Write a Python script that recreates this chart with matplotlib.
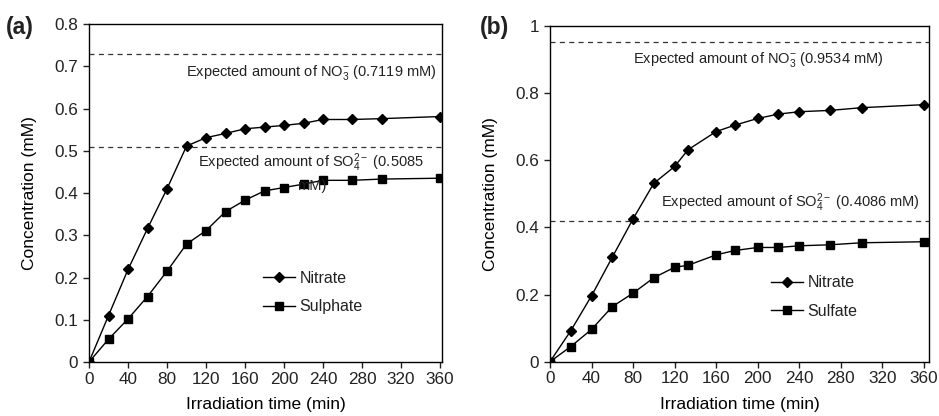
import numpy as np
import matplotlib
matplotlib.use("Agg")
import matplotlib.pyplot as plt
import matplotlib.ticker as mticker

# ── data ────────────────────────────────────────────────────────────────────
t_a        = [0, 20, 40, 60, 80, 100, 120, 140, 160, 180, 200, 220, 240, 270, 300, 360]
nitrate_a  = [0, 0.110, 0.219, 0.316, 0.410, 0.511, 0.531, 0.541, 0.552, 0.556,
              0.560, 0.565, 0.574, 0.574, 0.576, 0.581]
sulphate_a = [0, 0.054, 0.102, 0.155, 0.215, 0.279, 0.311, 0.356, 0.383, 0.405,
              0.413, 0.421, 0.430, 0.430, 0.433, 0.435]
expected_a = [0.729, 0.510]      # dashed line levels (NO3, SO4)

t_b        = [0, 20, 40, 60, 80, 100, 120, 133, 160, 178, 200, 220, 240, 270, 300, 360]
nitrate_b  = [0, 0.092, 0.196, 0.311, 0.425, 0.531, 0.581, 0.631, 0.685, 0.704,
              0.724, 0.737, 0.744, 0.748, 0.756, 0.765]
sulfate_b  = [0, 0.045, 0.096, 0.164, 0.204, 0.250, 0.281, 0.287, 0.318, 0.331,
              0.340, 0.340, 0.345, 0.348, 0.354, 0.357]
expected_b = [0.951, 0.420]

x_ticks = list(range(0, 361, 40))
y_ticks_a = [0, 0.1, 0.2, 0.3, 0.4, 0.5, 0.6, 0.7, 0.8]
y_ticks_b = [0, 0.2, 0.4, 0.6, 0.8, 1.0]

# ── style ───────────────────────────────────────────────────────────────────
plt.rcParams.update({
    "font.family": "Liberation Sans",
    "mathtext.fontset": "custom",
    "mathtext.rm": "Liberation Sans",
    "mathtext.it": "Liberation Sans",
    "font.size": 12,
    "axes.linewidth": 1.0,
    "xtick.direction": "out",
    "ytick.direction": "out",
    "xtick.major.size": 4,
    "ytick.major.size": 4,
    "text.color": "#222222",
    "xtick.color": "#222222",
    "ytick.color": "#222222",
})

LINE = dict(color="black", linewidth=1.0)
DASH = dict(color="#333333", linewidth=0.9, linestyle=(0, (4, 3.5)))

fig = plt.figure(figsize=(9.39, 4.16), dpi=100)
ax_a = fig.add_axes([0.0948, 0.1298, 0.3759, 0.8125])
ax_b = fig.add_axes([0.5857, 0.1305, 0.4037, 0.8077])


def setup(ax, yticks, ylim, xmax, ylab_x):
    ax.set_xlim(0, xmax)
    ax.set_ylim(*ylim)
    ax.set_xticks(x_ticks)
    ax.set_yticks(yticks)
    ax.yaxis.set_major_formatter(mticker.FuncFormatter(lambda v, _: f"{v:g}"))
    ax.tick_params(labelsize=12.3, width=1.0)
    ax.tick_params(axis="x", pad=3)
    ax.tick_params(axis="y", pad=4)
    ax.set_xlabel("Irradiation time (min)", fontsize=12.5)
    ax.set_ylabel("Concentration (mM)", fontsize=12.5)
    ax.yaxis.set_label_coords(ylab_x, 0.5)
    ax.xaxis.set_label_coords(0.5, -0.105)


# ── (a) ─────────────────────────────────────────────────────────────────────
ax = ax_a
ax.axhline(expected_a[0], **DASH)
ax.axhline(expected_a[1], **DASH)
ax.plot(t_a, nitrate_a, marker="D", markersize=4.8, label="Nitrate", **LINE)
ax.plot(t_a, sulphate_a, marker="s", markersize=5.2, label="Sulphate", **LINE)
ax.text(357, 0.686, r"Expected amount of NO$_3^{-}$ (0.7119 mM)",
        ha="right", va="center", fontsize=10.5)
ax.text(228, 0.45, "Expected amount of SO$_4^{2-}$ (0.5085\nmM)",
        ha="center", va="center", fontsize=10.5, multialignment="center",
        linespacing=1.45)
ax.legend(loc="upper left", bbox_to_anchor=(0.452, 0.312), frameon=False,
          handlelength=2.0, handletextpad=0.3, labelspacing=0.85, fontsize=11.5)
setup(ax, y_ticks_a, (0, 0.8), 362, -0.147)
fig.text(0.006, 0.935, "(a)", fontsize=16.5, fontweight="bold", va="center")

# ── (b) ─────────────────────────────────────────────────────────────────────
ax = ax_b
ax.axhline(expected_b[0], **DASH)
ax.axhline(expected_b[1], **DASH)
ax.plot(t_b, nitrate_b, marker="D", markersize=4.8, label="Nitrate", **LINE)
ax.plot(t_b, sulfate_b, marker="s", markersize=5.2, label="Sulfate", **LINE)
ax.text(201, 0.898, r"Expected amount of NO$_3^{-}$ (0.9534 mM)",
        ha="center", va="center", fontsize=10.5)
ax.text(356, 0.473, r"Expected amount of SO$_4^{2-}$ (0.4086 mM)",
        ha="right", va="center", fontsize=10.5)
ax.legend(loc="upper left", bbox_to_anchor=(0.545, 0.30), frameon=False,
          handlelength=2.0, handletextpad=0.3, labelspacing=0.85, fontsize=11.5)
setup(ax, y_ticks_b, (0, 1.0), 365, -0.137)
fig.text(0.511, 0.935, "(b)", fontsize=16.5, fontweight="bold", va="center")

fig.savefig("out.png", dpi=100)
